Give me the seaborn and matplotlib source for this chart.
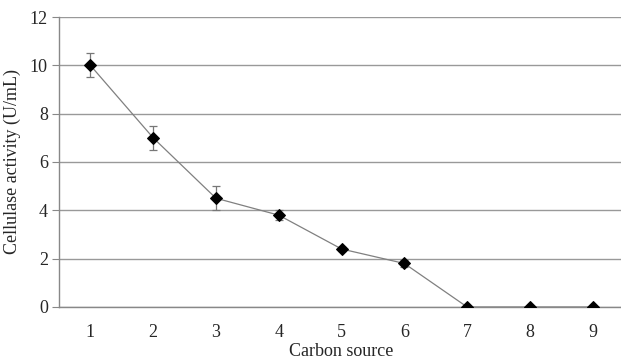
import matplotlib
matplotlib.use("Agg")
import matplotlib.pyplot as plt
import seaborn as sns
import pandas as pd

# data
carbon_source = [1, 2, 3, 4, 5, 6, 7, 8, 9]
activity = [10.0, 7.0, 4.5, 3.8, 2.4, 1.8, 0.0, 0.0, 0.0]
error = [0.5, 0.5, 0.5, 0.2, 0.1, 0.15, 0.0, 0.0, 0.0]
y_ticks = [0, 2, 4, 6, 8, 10, 12]

sns.set_style("white")
plt.rcParams["font.family"] = ["Liberation Serif", "DejaVu Serif"]

df = pd.DataFrame({"source": carbon_source, "activity": activity, "err": error})

fig = plt.figure(figsize=(6.21, 3.62), dpi=100)
ax = fig.add_axes([0.095, 0.152, 0.91, 0.801])

ax.errorbar(df["source"], df["activity"], yerr=df["err"], fmt="none",
            ecolor="#777777", elinewidth=0.9, capsize=3, capthick=0.9, zorder=2)
sns.lineplot(data=df, x="source", y="activity", ax=ax, color="#808080",
             linewidth=0.9, marker="D", markersize=6.5, markerfacecolor="black",
             markeredgecolor="black", zorder=3)

ax.set_xlim(0.5, 9.5)
ax.set_ylim(0, 12)
ax.set_yticks(y_ticks)
ax.set_xticks(carbon_source)
ax.set_xticks([x + 0.5 for x in range(0, 10)], minor=True)
ax.tick_params(axis="x", which="major", length=0, labelsize=13, pad=12)
ax.tick_params(axis="x", which="minor", length=5, color="#888888", direction="out")
ax.tick_params(axis="y", length=5, color="#888888", direction="out", labelsize=13,
               left=True, pad=3)
ax.yaxis.grid(True, color="#999999", linewidth=1)
ax.set_axisbelow(True)

for side in ["top", "right"]:
    ax.spines[side].set_visible(False)
for side in ["left", "bottom"]:
    ax.spines[side].set_color("#888888")
    ax.spines[side].set_linewidth(1)

ax.set_xlabel("Carbon source", fontsize=13, labelpad=2)
ax.set_ylabel("Cellulase activity (U/mL)", fontsize=13, labelpad=6)

fig.savefig("out.png", dpi=100)
